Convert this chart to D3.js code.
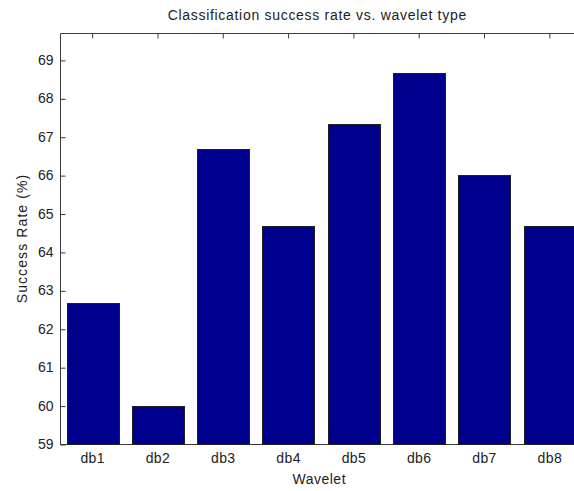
<!DOCTYPE html>
<html>
<head>
<meta charset="utf-8">
<script src="https://cdn.jsdelivr.net/npm/d3@7"></script>
<style>
  html, body { margin: 0; padding: 0; background: #fff; }
  svg { display: block; }
  text { font-family: "Liberation Sans", Arial, Helvetica, sans-serif; fill: #222; }
</style>
</head>
<body>
<svg id="chart" width="574" height="491"></svg>
<script>
// Wavelet families and their classification success rates (%)
const wavelets = ["db1", "db2", "db3", "db4", "db5", "db6", "db7", "db8"];
const successRates = [62.67, 60.0, 66.67, 64.67, 67.33, 68.67, 66.0, 64.67];
const yTicks = [59, 60, 61, 62, 63, 64, 65, 66, 67, 68, 69];
const yDomain = [59, 69.7];

const svg = d3.select("#chart");
const plotLeft = 60, plotTop = 33, plotBottom = 444, plotRight = 582.5;
const fontSize = 14;

const x = d3.scaleBand()
  .domain(wavelets)
  .range([plotLeft, plotRight])
  .paddingInner(0.2)
  .paddingOuter(0.1);

const y = d3.scaleLinear().domain(yDomain).range([plotBottom, plotTop]);

const axisColor = "#3a3a3a";

// Axes box (left, top, bottom spines)
svg.append("path")
  .attr("d", `M${plotLeft + 0.5},${plotBottom + 0.5}V${plotTop + 0.5}H${plotRight + 0.5}`)
  .attr("fill", "none")
  .attr("stroke", axisColor)
  .attr("stroke-width", 1);
svg.append("line")
  .attr("x1", plotLeft).attr("x2", plotRight)
  .attr("y1", plotBottom + 0.5).attr("y2", plotBottom + 0.5)
  .attr("stroke", axisColor);

// Y axis: inward ticks with labels on the left
const yAxis = d3.axisLeft(y).tickValues(yTicks).tickSizeInner(-5).tickSizeOuter(0).tickPadding(8).tickFormat(d3.format("d"));
const gy = svg.append("g").attr("transform", `translate(${plotLeft + 0.5},0)`).call(yAxis);
gy.select(".domain").remove();
gy.selectAll(".tick line").attr("stroke", axisColor).attr("transform", "translate(0,0.5)");
gy.selectAll(".tick text").attr("font-size", fontSize).attr("fill", "#222").attr("x", -7)
  .style("font-family", '"Liberation Sans", Arial, sans-serif');

// Top spine ticks pointing inward at each category
const xTop = d3.axisTop(x).tickSizeInner(-5).tickSizeOuter(0).tickFormat("");
const gt = svg.append("g").attr("transform", `translate(0,${plotTop + 0.5})`).call(xTop);
gt.select(".domain").remove();
gt.selectAll(".tick line").attr("stroke", axisColor);

// Bars
svg.append("g").selectAll("rect")
  .data(wavelets.map((w, i) => ({ w, v: successRates[i] })))
  .join("rect")
  .attr("x", d => Math.round(x(d.w)) + 0.5)
  .attr("y", d => Math.round(y(d.v)) + 0.5)
  .attr("width", Math.round(x.bandwidth()))
  .attr("height", d => Math.round(y(yDomain[0])) - Math.round(y(d.v)))
  .attr("fill", "#00008f")
  .attr("stroke", "#202020")
  .attr("stroke-width", 1);

// Bottom category labels (no visible ticks)
const xBottom = d3.axisBottom(x).tickSize(0).tickPadding(9);
const gb = svg.append("g").attr("transform", `translate(0,${plotBottom})`).call(xBottom);
gb.select(".domain").remove();
gb.selectAll(".tick text").attr("font-size", fontSize).attr("fill", "#222")
  .attr("letter-spacing", 0.4)
  .style("font-family", '"Liberation Sans", Arial, sans-serif');

const cx = (plotLeft + plotRight) / 2;

// Title
svg.append("text")
  .attr("x", cx - 4).attr("y", 20)
  .attr("text-anchor", "middle")
  .attr("font-size", fontSize)
  .attr("letter-spacing", 0.7)
  .text("Classification success rate vs. wavelet type");

// Axis titles
svg.append("text")
  .attr("x", cx - 2).attr("y", 484)
  .attr("text-anchor", "middle")
  .attr("font-size", fontSize)
  .attr("letter-spacing", 0.5)
  .text("Wavelet");

svg.append("text")
  .attr("transform", `translate(27,${(plotTop + plotBottom) / 2}) rotate(-90)`)
  .attr("text-anchor", "middle")
  .attr("font-size", fontSize)
  .attr("letter-spacing", 1.1)
  .text("Success Rate (%)");
</script>
</body>
</html>
